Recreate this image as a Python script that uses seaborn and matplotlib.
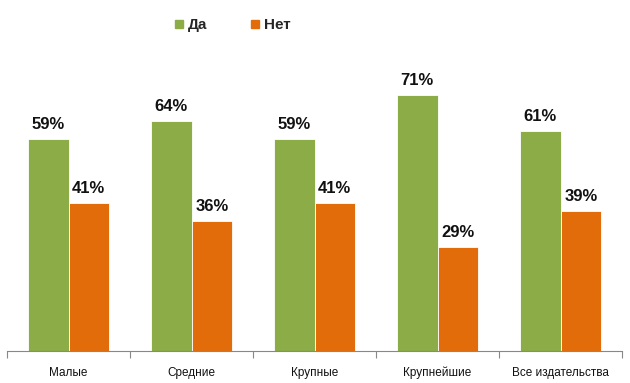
import matplotlib
matplotlib.use("Agg")
import matplotlib.pyplot as plt
import pandas as pd
import seaborn as sns

categories = ["Малые", "Средние", "Крупные", "Крупнейшие", "Все издательства"]
yes_values = [59, 64, 59, 71, 61]
no_values = [41, 36, 41, 29, 39]
series_names = ["Да", "Нет"]
colors = ["#8BAC46", "#E36C0A"]

sns.set_theme(style="white")
plt.rcParams["font.family"] = ["Liberation Sans", "DejaVu Sans"]

df = pd.DataFrame({
    "category": categories * 2,
    "value": yes_values + no_values,
    "series": [series_names[0]] * len(categories) + [series_names[1]] * len(categories),
})

fig = plt.figure(figsize=(6.3, 3.83), dpi=100)
ax = fig.add_axes([7 / 630, 32 / 383, 615 / 630, 288 / 383])

sns.barplot(data=df, x="category", y="value", hue="series", order=categories,
            hue_order=series_names, palette=colors, saturation=1, width=0.66, ax=ax,
            edgecolor="white", linewidth=0.6, legend=False)

for container in ax.containers:
    ax.bar_label(container, labels=[f"{v:.0f}%" for v in container.datavalues],
                 padding=5, fontsize=12, fontweight="bold", color="#111111")

ax.set_ylim(0, 80)
ax.set_xlim(-0.5, len(categories) - 0.5)
ax.set_xlabel("")
ax.set_ylabel("")
ax.set_yticks([])
for side in ["left", "right", "top"]:
    ax.spines[side].set_visible(False)
ax.spines["bottom"].set_color("#888888")
ax.spines["bottom"].set_linewidth(0.8)

ax.set_xticks([i - 0.5 for i in range(len(categories) + 1)], minor=True)
ax.tick_params(axis="x", which="minor", length=5, width=0.8, color="#888888", bottom=True)
ax.tick_params(axis="x", which="major", length=0, pad=18, labelsize=8.5, labelcolor="#111111")
for lbl in ax.get_xticklabels():
    lbl.set_verticalalignment("baseline")

handles = [plt.Line2D([], [], marker="s", linestyle="", markersize=5.5, color=c) for c in colors]
fig.legend(handles, series_names, loc="center", bbox_to_anchor=(0.369, 0.935), ncol=2,
           frameon=False, handlelength=0.6, handletextpad=0.3, columnspacing=2.8,
           prop={"weight": "bold", "size": 11})

fig.savefig("out.png", dpi=100)
